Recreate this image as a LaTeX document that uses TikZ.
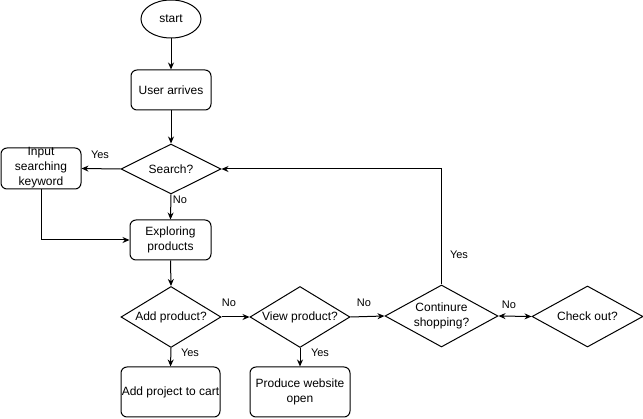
\documentclass[tikz,border=0pt]{standalone}
\usepackage{fontspec}
\setmainfont{Liberation Sans}
\usetikzlibrary{shapes.geometric,arrows.meta}
\begin{document}
\begin{tikzpicture}[x=1pt,y=-1pt,
  every node/.style={font=\fontsize{12}{15}\selectfont},
  box/.style={draw,line width=1pt,rounded corners=6pt,minimum width=80pt,minimum height=40pt,align=center,inner sep=0pt},
  dia/.style={draw,line width=1pt,diamond,inner sep=0pt},
  txt/.style={align=center,inner sep=0pt},
  lab/.style={font=\fontsize{11}{13}\selectfont,inner sep=0pt},
  conn/.style={line width=1pt,-{Stealth[length=7pt,width=6pt]}},
  both/.style={line width=1pt,{Stealth[length=7pt,width=6pt]}-{Stealth[length=7pt,width=6pt]}}
]
\useasboundingbox (0,0) rectangle (643,419);
\node[draw,line width=1pt,ellipse,minimum width=60pt,minimum height=38pt,inner sep=0pt] (start) at (171,19) {start};
\node[box] (user) at (171,90) {User arrives};
\node[dia,minimum width=100pt,minimum height=50pt] (search) at (171,169) {};
\node[txt] (searcht) at (search) {Search?};
\node[box,minimum width=80pt,minimum height=41pt] (input) at (41,168.5) {};
\node[txt,anchor=north] (inputt) at (41,147) {Input\\searching\\keyword};
\node[box,minimum width=81pt] (explore) at (170.5,240) {Exploring\\products};
\node[dia,minimum width=100pt,minimum height=61pt] (add) at (171,317) {};
\node[txt] (addt) at (add) {Add product?};
\node[dia,minimum width=100pt,minimum height=61pt] (view) at (300,317) {};
\node[txt] (viewt) at (view) {View product?};
\node[dia,minimum width=113pt,minimum height=62pt] (cont) at (441.5,316) {};
\node[txt] (contt) at (cont) {Continure\\shopping?};
\node[dia,minimum width=111pt,minimum height=61pt] (check) at (587.5,316.5) {};
\node[txt] (checkt) at (check) {Check out?};
\node[box,minimum width=99pt,minimum height=50pt] (cart) at (170.5,392) {Add project to cart};
\node[box,minimum width=100pt,minimum height=50pt] (prod) at (300,392) {Produce website\\open};
\draw[conn] (start) -- (user);
\draw[conn] (user) -- (search);
\draw[conn] (search.west) -- (input.east);
\draw[conn] (search.south) -- (explore.north);
\draw[conn] (input.south) |- (explore.west);
\draw[conn] (explore.south) -- (add.north);
\draw[conn] (add.east) -- (view.west);
\draw[conn] (add.south) -- (cart.north);
\draw[conn] (view.south) -- (prod.north);
\draw[conn] (view.east) -- (cont.west);
\draw[both] (cont.east) -- (check.west);
\draw[conn] (cont.north) |- (search.east);
\node[lab] (l1) at (100,155) {Yes};
\node[lab] (l2) at (180,200) {No};
\node[lab] (l3) at (229,303) {No};
\node[lab] (l4) at (364,303) {No};
\node[lab] (l5) at (509,305) {No};
\node[lab] (l6) at (190,353) {Yes};
\node[lab] (l7) at (320,353) {Yes};
\node[lab] (l8) at (459,255) {Yes};
\end{tikzpicture}
\end{document}
